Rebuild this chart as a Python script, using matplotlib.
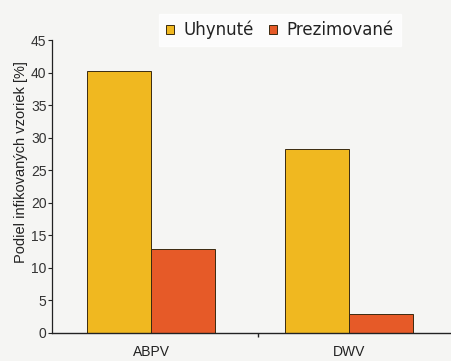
import matplotlib
matplotlib.use("Agg")
import matplotlib.pyplot as plt
import numpy as np

categories = ["ABPV", "DWV"]
uhynute = [40.3, 28.3]
prezimovane = [12.9, 2.9]
series_names = ["Uhynuté", "Prezimované"]
yticks = [0, 5, 10, 15, 20, 25, 30, 35, 40, 45]

YELLOW = "#f0b820"
RED = "#e65a28"
BG = "#f5f5f3"

fig = plt.figure(figsize=(4.52, 3.61), dpi=100, facecolor=BG)
ax = fig.add_axes([0.115, 0.078, 0.885, 0.811])
ax.set_facecolor(BG)

x = np.arange(len(categories))
w = 0.325
ax.bar(x - w / 2, uhynute, w, color=YELLOW, edgecolor="#3a2a10", linewidth=0.7,
       label=series_names[0])
ax.bar(x + w / 2, prezimovane, w, color=RED, edgecolor="#3a2a10", linewidth=0.7,
       label=series_names[1])

ax.set_xlim(-0.5, 1.52)
ax.set_ylim(0, 45)
ax.set_yticks(yticks)
# separator tick between the two groups
ax.set_xticks([0.54])
ax.set_xticklabels([""])
ax.tick_params(axis="x", length=3, width=1, color="#222222")
ax.tick_params(axis="y", length=3, width=0.8, color="#222222", labelsize=10,
               labelcolor="#333333", pad=1)
for i, c in enumerate(categories):
    ax.text(x[i], -1.8, c, ha="center", va="top", fontsize=10, color="#222222",
            family="Liberation Sans")
for lbl in ax.get_yticklabels():
    lbl.set_family("Liberation Sans")

for s in ["top", "right"]:
    ax.spines[s].set_visible(False)
ax.spines["left"].set_color("#222222")
ax.spines["bottom"].set_color("#222222")
ax.spines["left"].set_linewidth(0.9)
ax.spines["bottom"].set_linewidth(1.0)

ax.set_ylabel("Podiel infikovaných vzoriek [%]", fontsize=10.5, color="#222222",
              family="Liberation Sans", labelpad=1)
ax.yaxis.set_label_coords(-0.06, 0.585)

leg = fig.legend(loc="center left", bbox_to_anchor=(0.337, 0.917), ncol=2,
                 frameon=True, fontsize=12, handlelength=0.5, handleheight=0.5,
                 handletextpad=0.6, columnspacing=0.85, borderpad=0.3)
leg.get_frame().set_facecolor("white")
leg.get_frame().set_edgecolor("white")
leg.get_frame().set_boxstyle("square", pad=0.1)
for t in leg.get_texts():
    t.set_color("#222222")

fig.savefig("out.png", dpi=100, facecolor=fig.get_facecolor())
